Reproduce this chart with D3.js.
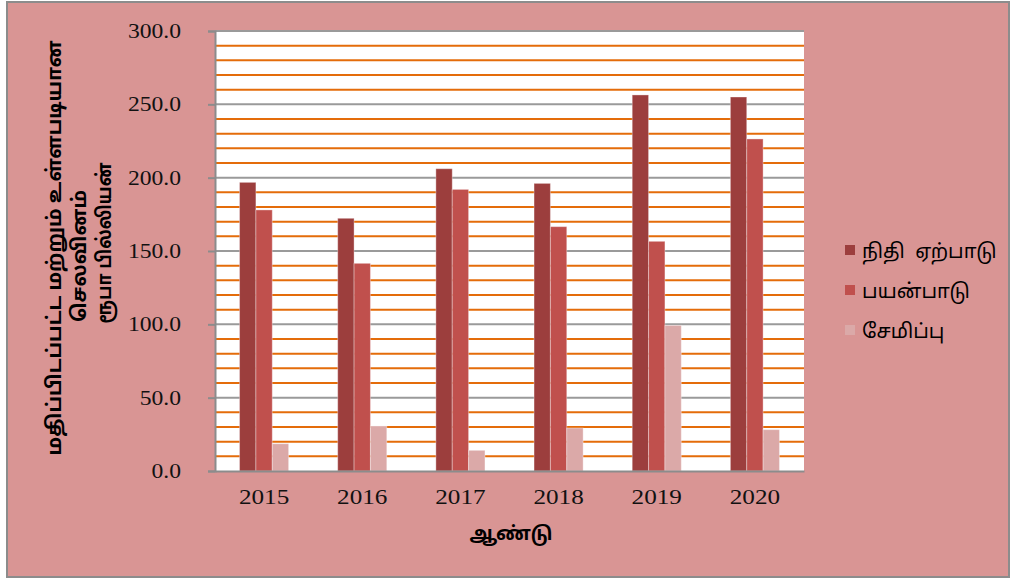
<!DOCTYPE html>
<html><head><meta charset="utf-8">
<script src="https://cdn.jsdelivr.net/npm/d3@7"></script>
<style>html,body{margin:0;padding:0;background:#fff;}svg{display:block;}</style>
</head><body>
<svg id="c" width="1012" height="579"></svg>
<script>
const years = ["2015","2016","2017","2018","2019","2020"];
const seriesNames = ["நிதி  ஏற்பாடு","பயன்பாடு","சேமிப்பு"];
const allocation = [196.8, 172.3, 206.1, 196.1, 256.4, 255.0];
const utilization = [178.0, 141.6, 192.0, 166.6, 156.6, 226.4];
const savings = [18.6, 30.7, 14.1, 29.3, 99.3, 28.2];
const yTicks = [0, 50, 100, 150, 200, 250, 300];
const colors = ["#9C3E3D", "#C0504D", "#DBA9A8"];
const yTitle = ["மதிப்பிடப்பட்ட மற்றும் உள்ளபடியான", "செலவினம்", "ரூபா பில்லியன்"];
const xTitle = "ஆண்டு";

const svg = d3.select("#c");
svg.append("rect").attr("x",7).attr("y",2).attr("width",1002).attr("height",575)
  .attr("fill","#D99594").attr("stroke","#8C8C8C").attr("stroke-width",2);

const L=215, R=804, T=31, B=471;
const x = d3.scaleBand().domain(years).range([L,R]).paddingInner(0).paddingOuter(0);
const xs = d3.scaleBand().domain([0,1,2]).range([0, x.bandwidth()*0.5]);
const y = d3.scaleLinear().domain([0,300]).range([B,T]);

svg.append("rect").attr("x",L).attr("y",T).attr("width",R-L).attr("height",B-T).attr("fill","#fff");

const minor = d3.range(10,300,10).filter(v=>v%50!==0);
svg.append("g").selectAll("line").data(minor).join("line")
  .attr("x1",L).attr("x2",R).attr("y1",d=>y(d)).attr("y2",d=>y(d))
  .attr("stroke","#E46C0A").attr("stroke-width",2);
svg.append("g").selectAll("line").data(yTicks.filter(v=>v>0)).join("line")
  .attr("x1",L).attr("x2",R).attr("y1",d=>y(d)).attr("y2",d=>y(d))
  .attr("stroke","#9A9A9A").attr("stroke-width",2);

const data = [allocation, utilization, savings];
years.forEach((yr,i)=>{
  const g = svg.append("g").attr("transform",`translate(${x(yr)+x.bandwidth()*0.25},0)`);
  g.selectAll("rect").data(data.map((s,k)=>({k,v:s[i]}))).join("rect")
    .attr("x",d=>xs(d.k)).attr("width",xs.bandwidth())
    .attr("y",d=>y(d.v)).attr("height",d=>B-y(d.v))
    .attr("fill",d=>colors[d.k]).attr("stroke","rgba(255,255,255,0.35)").attr("stroke-width",1);
});

const ya = svg.append("g").attr("transform",`translate(${L},0)`)
  .call(d3.axisLeft(y).tickValues(yTicks).tickFormat(d3.format(".1f")).tickSize(7).tickPadding(28));
ya.select(".domain").attr("stroke","#8C8C8C").attr("stroke-width",2);
ya.selectAll(".tick line").attr("stroke","#8C8C8C").attr("stroke-width",2);
ya.selectAll("text").attr("font-family","'Liberation Serif','Times New Roman',serif")
  .attr("font-size",20).attr("fill","#111").attr("transform","scale(1.18,1)").attr("x",-34/1.18);

const xa = svg.append("g").attr("transform",`translate(0,${B})`)
  .call(d3.axisBottom(x).tickSize(0).tickPadding(18));
xa.select(".domain").attr("stroke","#8C8C8C").attr("stroke-width",2);
xa.selectAll("text").attr("font-family","'Liberation Serif','Times New Roman',serif")
  .attr("font-size",21).attr("fill","#111").attr("transform","scale(1.2,1)");

const yt = svg.append("g").attr("transform","rotate(-90)");
const yCenters = [248, 256, 243];
const yLens = [415, 132, 161];
yTitle.forEach((t,i)=>{
  yt.append("text").attr("x",-yCenters[i]).attr("y",61+i*25).attr("text-anchor","middle")
    .attr("font-family","'Noto Sans Tamil','Noto Sans',sans-serif").attr("font-weight","bold")
    .attr("font-size",20).attr("textLength",yLens[i]).attr("lengthAdjust","spacingAndGlyphs")
    .attr("fill","#000").text(t);
});
svg.append("text").attr("x",511).attr("y",540).attr("text-anchor","middle")
  .attr("font-family","'Noto Sans Tamil','Noto Sans',sans-serif").attr("font-weight","bold")
  .attr("font-size",19).attr("fill","#000").text(xTitle);

const lg = svg.append("g").attr("transform","translate(845,250)");
seriesNames.forEach((n,i)=>{
  lg.append("rect").attr("x",0).attr("y",i*40-5).attr("width",10).attr("height",10).attr("fill",colors[i]);
  lg.append("text").attr("x",17).attr("y",i*40+8).attr("font-family","'Noto Sans Tamil','Noto Sans',sans-serif")
    .attr("font-size",20).attr("fill","#000").style("white-space","pre").text(n);
});
</script>
</body></html>
